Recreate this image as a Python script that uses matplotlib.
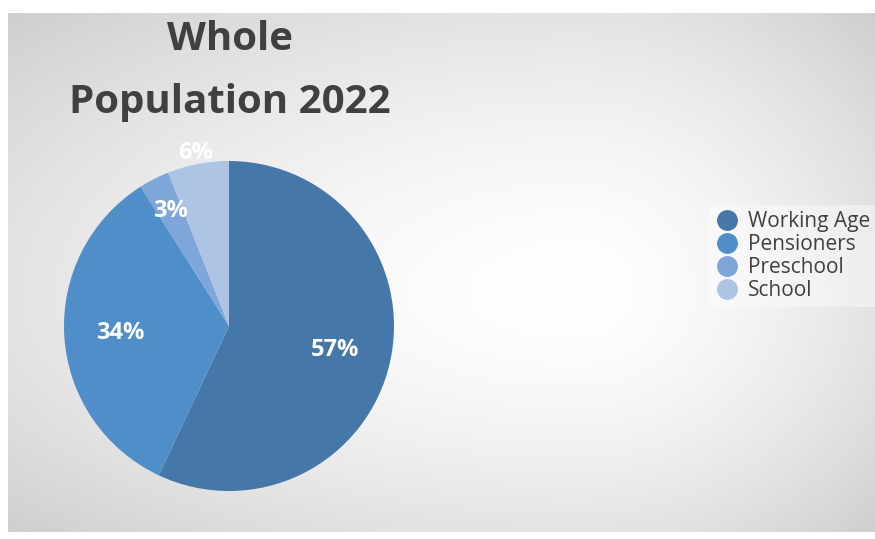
import numpy as np
import matplotlib.pyplot as plt

categories = ["Working Age", "Pensioners", "Preschool", "School"]
shares = [57, 34, 3, 6]
colors = ["#4677a9", "#508ec9", "#7ea6d9", "#adc4e5"]
label_radius = [0.66, 0.66, 0.78, 1.07]

W, H = 875, 539
fig = plt.figure(figsize=(W / 100, H / 100), dpi=100)

# background panel with radial gradient (white in the middle right, grey edges)
pw, ph = 867, 519
bg = fig.add_axes([8 / W, 7 / H, pw / W, ph / H])
yy, xx = np.mgrid[0:ph, 0:pw]
gx, gy = 570, 280
u = np.where(xx < gx, (xx - gx) / gx, (xx - gx) / (pw - gx))
v = np.where(yy < gy, (yy - gy) / gy, (yy - gy) / (ph - gy))
d = np.sqrt(u ** 2 + v ** 2) / np.sqrt(2)
shade = 1 - 0.19 * np.clip(d, 0, 1) ** 1.6
bg.imshow(np.dstack([shade] * 3), aspect="auto", interpolation="bilinear")
bg.axis("off")

# pie
r = 165
cx, cy = 229, 539 - 326
ax = fig.add_axes([(cx - r) / W, (cy - r) / H, 2 * r / W, 2 * r / H])
wedges, texts = ax.pie(shares, colors=colors, startangle=90, counterclock=False,
                       radius=1)
ax.set_xlim(-1, 1)
ax.set_ylim(-1, 1)
ax.set_aspect("auto")

total = sum(shares)
start = 90
for v, lr in zip(shares, label_radius):
    mid = np.deg2rad(start - v / total * 360 / 2)
    start -= v / total * 360
    ax.text(lr * np.cos(mid), lr * np.sin(mid), f"{v}%", ha="center", va="center",
            color="white", fontsize=17, fontweight="bold", family="Open Sans")

fig.text(230 / W, 1 - 40 / H, "Whole", ha="center", va="center", fontsize=29,
         fontweight="bold", color="#404040", family="Open Sans")
fig.text(230 / W, 1 - 102 / H, "Population 2022", ha="center", va="center",
         fontsize=29, fontweight="bold", color="#404040", family="Open Sans")

handles = [plt.Line2D([], [], marker="o", linestyle="", markersize=14,
                      markerfacecolor=c, markeredgecolor=c) for c in colors]
leg = fig.legend(handles, categories, loc="center left",
                 bbox_to_anchor=(709 / W, 1 - 256 / H), frameon=True,
                 prop={"family": "Open Sans", "size": 15},
                 handletextpad=0.45, labelspacing=0.1, borderpad=0.3,
                 handlelength=1.1, borderaxespad=0)
leg.get_frame().set_facecolor("white")
leg.get_frame().set_alpha(0.4)
leg.get_frame().set_edgecolor("none")
leg.get_frame().set_boxstyle("square", pad=0)
for t in leg.get_texts():
    t.set_color("#404040")

fig.savefig("out.png", dpi=100)
